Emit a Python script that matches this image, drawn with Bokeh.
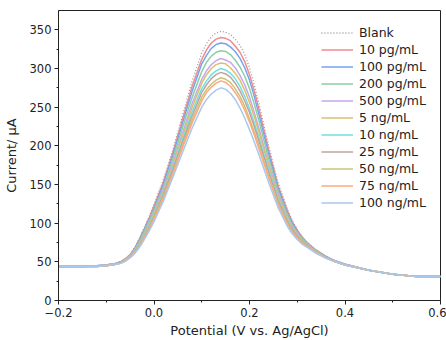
from bokeh.plotting import figure
from bokeh.models import Range1d, FixedTicker, PrintfTickFormatter
from bokeh.embed import file_html
from bokeh.resources import INLINE

potential = [-0.2, -0.15, -0.12, -0.1, -0.08, -0.07, -0.06, -0.05, -0.04, -0.03, -0.02, -0.01, 0.0,
             0.02, 0.04, 0.06, 0.08, 0.1, 0.11, 0.12, 0.13, 0.14, 0.15, 0.16, 0.17, 0.18, 0.19, 0.2,
             0.21, 0.22, 0.24, 0.26, 0.28, 0.29, 0.3, 0.31, 0.32, 0.34, 0.36, 0.38, 0.4, 0.45, 0.5, 0.55, 0.6]

blank = [44, 44, 45, 46, 48, 50, 54, 60, 69, 81, 95, 109, 124, 157, 196, 240, 284, 320, 332, 341, 346, 348, 347,
         344, 338, 330, 318, 301, 279, 254, 200, 152, 117, 103, 92, 83, 76, 65, 57, 51, 47, 39, 34, 31, 31]
pg10 = [44, 44, 45, 46, 48, 50, 54, 59, 68, 80, 93, 107, 122, 154, 192, 235, 277, 312, 324, 333, 338, 340, 339,
        336, 329, 321, 309, 292, 271, 247, 195, 148, 115, 101, 91, 82, 75, 65, 57, 51, 47, 39, 34, 31, 31]
pg100 = [44, 44, 45, 46, 48, 50, 53, 59, 67, 79, 92, 105, 119, 151, 189, 230, 271, 306, 317, 326, 331, 333, 332,
         328, 322, 313, 301, 285, 264, 240, 190, 145, 112, 100, 89, 81, 75, 64, 57, 51, 47, 39, 34, 31, 31]
pg200 = [44, 44, 45, 46, 48, 49, 53, 58, 66, 77, 90, 103, 117, 147, 184, 224, 263, 296, 308, 316, 321, 323, 322,
         318, 311, 302, 290, 274, 254, 232, 184, 141, 110, 97, 88, 80, 74, 64, 56, 51, 47, 39, 34, 31, 31]
pg500 = [44, 44, 45, 46, 48, 49, 53, 58, 65, 75, 87, 100, 113, 144, 179, 217, 255, 286, 297, 305, 310, 313, 311,
         308, 301, 291, 279, 263, 243, 222, 177, 137, 106, 95, 86, 78, 73, 63, 56, 51, 47, 39, 34, 31, 31]
ng5 = [44, 44, 44, 45, 47, 49, 52, 57, 65, 74, 86, 98, 112, 141, 176, 213, 250, 281, 292, 300, 305, 307, 306,
       301, 294, 285, 272, 256, 238, 217, 174, 134, 105, 93, 85, 77, 72, 63, 56, 50, 46, 39, 34, 31, 31]
ng10 = [44, 44, 44, 45, 47, 49, 52, 57, 64, 73, 84, 96, 109, 139, 172, 208, 244, 274, 284, 292, 297, 300, 298,
        294, 287, 277, 264, 248, 230, 210, 169, 131, 102, 92, 83, 76, 71, 62, 56, 50, 46, 39, 34, 31, 31]
ng25 = [44, 44, 44, 45, 47, 49, 52, 56, 63, 72, 83, 95, 108, 137, 170, 205, 239, 269, 279, 287, 292, 295, 293,
        289, 281, 271, 258, 243, 225, 206, 166, 129, 101, 91, 83, 76, 71, 62, 56, 50, 46, 39, 34, 31, 31]
ng50 = [44, 44, 44, 45, 47, 48, 52, 56, 62, 71, 82, 93, 106, 134, 166, 201, 234, 263, 273, 280, 285, 288, 286,
        282, 274, 264, 251, 235, 218, 200, 161, 126, 99, 89, 81, 75, 70, 62, 55, 50, 46, 39, 34, 31, 31]
ng75 = [44, 44, 44, 45, 47, 48, 51, 56, 62, 70, 81, 92, 105, 132, 164, 198, 230, 258, 269, 276, 281, 284, 282,
        277, 269, 259, 246, 231, 214, 196, 159, 124, 98, 88, 81, 74, 70, 61, 55, 50, 46, 39, 34, 31, 31]
ng100 = [44, 44, 44, 45, 47, 48, 51, 55, 61, 69, 79, 90, 102, 129, 160, 192, 223, 250, 260, 267, 272, 275, 273,
         268, 260, 249, 236, 221, 205, 188, 153, 120, 95, 86, 79, 73, 69, 61, 55, 50, 46, 39, 34, 31, 31]

labels = ["Blank", "10 pg/mL", "100 pg/mL", "200 pg/mL", "500 pg/mL", "5 ng/mL",
          "10 ng/mL", "25 ng/mL", "50 ng/mL", "75 ng/mL", "100 ng/mL"]
series = [blank, pg10, pg100, pg200, pg500, ng5, ng10, ng25, ng50, ng75, ng100]
colors = ["#9a9a9a", "#f28b8b", "#78a4ee", "#8ccfa4", "#c6a8ea", "#dcc070",
          "#6fe0e0", "#c0a2a2", "#c8c47a", "#ffa87c", "#a8c8ee"]

x_ticks = [-0.2, 0.0, 0.2, 0.4, 0.6]
x_minor = [-0.1, 0.1, 0.3, 0.5]
y_ticks = [0, 50, 100, 150, 200, 250, 300, 350]
y_minor = [25, 75, 125, 175, 225, 275, 325]

FONT = "DejaVu Sans"

p = figure(width=446, height=340, output_backend="svg", toolbar_location=None,
           x_range=Range1d(-0.2, 0.6), y_range=Range1d(0, 375),
           min_border_left=58, min_border_right=6, min_border_top=10, min_border_bottom=5)

for lab, ys, c in zip(labels, series, colors):
    if lab == "Blank":
        p.line(potential, ys, color=c, line_width=1.3, line_dash="1 2", legend_label=lab)
    else:
        p.line(potential, ys, color=c, line_width=1.5, legend_label=lab)

p.grid.visible = False
p.outline_line_color = "#222222"
p.outline_line_width = 1
p.background_fill_color = "white"
p.border_fill_color = "white"

p.xaxis.ticker = FixedTicker(ticks=x_ticks, minor_ticks=x_minor)
p.yaxis.ticker = FixedTicker(ticks=y_ticks, minor_ticks=y_minor)
p.xaxis.formatter = PrintfTickFormatter(format="%.1f")
p.xaxis.major_label_overrides = {-0.2: "\u22120.2"}
for ax in (p.xaxis, p.yaxis):
    ax.axis_line_color = "#222222"
    ax.major_tick_line_color = "#222222"
    ax.minor_tick_line_color = "#222222"
    ax.major_tick_in = 0
    ax.major_tick_out = 4
    ax.minor_tick_in = 0
    ax.minor_tick_out = 2
    ax.major_label_text_font = FONT
    ax.major_label_text_font_size = "11.5px"
    ax.major_label_text_color = "#222222"
    ax.axis_label_text_font = FONT
    ax.axis_label_text_font_size = "13px"
    ax.axis_label_text_font_style = "normal"
    ax.axis_label_text_color = "#222222"

p.xaxis.axis_label = "Potential (V vs. Ag/AgCl)"
p.yaxis.axis_label = "Current/ μA"
p.xaxis.axis_label_standoff = 3
p.yaxis.axis_label_standoff = 8
p.xaxis.major_label_standoff = 3
p.yaxis.major_label_standoff = 3

lg = p.legend[0]
lg.location = "top_right"
lg.border_line_alpha = 0
lg.background_fill_alpha = 0
lg.label_text_font = FONT
lg.label_text_font_size = "12.5px"
lg.label_text_color = "#222222"
lg.glyph_width = 32
lg.glyph_height = 17
lg.label_height = 17
lg.label_standoff = 6
lg.spacing = 0
lg.margin = 6
lg.padding = 8

open("out.html", "w").write(file_html(p, INLINE))
